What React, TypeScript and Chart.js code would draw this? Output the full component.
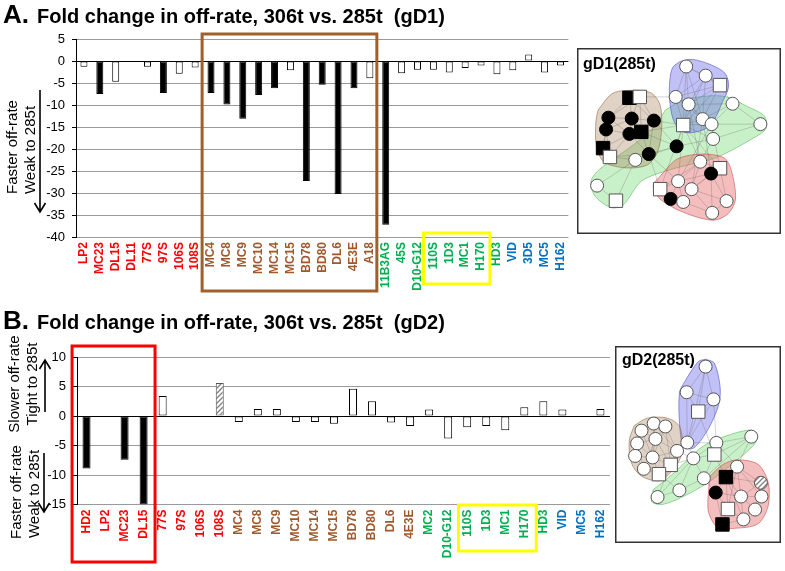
import React, { useEffect, useRef } from 'react';
import { Chart, registerables } from 'chart.js';
Chart.register(...registerables);

// ---------- Panel A data (gD1) ----------
const labelsA = ['LP2','MC23','DL15','DL11','77S','97S','106S','108S','MC4','MC8','MC9','MC10','MC14','MC15','BD78','BD80','DL6','4E3E','A18','11B3AG','45S','D10-G12','110S','1D3','MC1','H170','HD3','VID','3D5','MC5','H162'];
const valuesA = [-1.3,-7.5,-4.7,null,-1.3,-7.3,-2.9,-1.5,-7.3,-9.9,-13.1,-7.7,-6.2,-2.1,-27.3,-5.4,-30.2,-6.2,-3.9,-37.2,-2.8,-2.0,-2.0,-2.6,-1.6,-1.0,-3.0,-2.1,1.5,-2.6,-1.0];
const marksA = ['ns','sig','ns','ns','ns','sig','ns','ns','sig','sig','sig','sig','sig','ns','sig','sig','sig','sig','ns','sig','ns','ns','ns','ns','ns','ns','ns','ns','ns','ns','ns'];
const communityA = ['1','1','1','1','1','1','1','1','2','2','2','2','2','2','2','2','2','2','2','3','3','3','3','3','3','3','3','4','4','4','4'];
const tickLabelsA = [5, 0, -5, -10, -15, -20, -25, -30, -35, -40];

// ---------- Panel B data (gD2) ----------
const labelsB = ['HD2','LP2','MC23','DL15','77S','97S','106S','108S','MC4','MC8','MC9','MC10','MC14','MC15','BD78','BD80','DL6','4E3E','MC2','D10-G12','110S','1D3','MC1','H170','HD3','VID','MC5','H162'];
const valuesB = [-8.9,null,-7.4,-15,3.4,null,null,5.6,-1.0,1.2,1.2,-1.0,-1.0,-1.3,4.6,2.5,-1.1,-1.7,1.1,-3.8,-1.9,-1.7,-2.4,1.5,2.5,1.1,null,1.2];
const marksB = ['sig','ns','sig','sig','ns','ns','ns','partial','ns','ns','ns','ns','ns','ns','ns','ns','ns','ns','ns','ns','ns','ns','ns','ns','ns','ns','ns','ns'];
const communityB = ['1','1','1','1','1','1','1','1','2','2','2','2','2','2','2','2','2','2','3','3','3','3','3','3','3','4','4','4'];
const tickLabelsB = [10, 5, 0, -5, -10, -15];

// ---------- Network gD1(285t) ----------
const nodesGD1 = [
  { id: 'b1', x: 110, y: 9, shape: 'circle', effect: 'none' },
  { id: 'b2', x: 131.7, y: 19.3, shape: 'circle', effect: 'none' },
  { id: 'b3', x: 147.7, y: 30, shape: 'square', effect: 'none' },
  { id: 'b4', x: 98.3, y: 43.3, shape: 'circle', effect: 'none' },
  { id: 'b5', x: 112.7, y: 51.7, shape: 'circle', effect: 'none' },
  { id: 'b6', x: 106.7, y: 75, shape: 'square', effect: 'none' },
  { id: 'b7', x: 128.3, y: 68.3, shape: 'circle', effect: 'none' },
  { id: 'g1', x: 161.7, y: 51, shape: 'circle', effect: 'none' },
  { id: 'g2', x: 192.7, y: 74, shape: 'circle', effect: 'none' },
  { id: 'g3', x: 138.3, y: 74, shape: 'circle', effect: 'none' },
  { id: 'g4', x: 140, y: 90.7, shape: 'circle', effect: 'none' },
  { id: 'g5', x: 99.3, y: 99, shape: 'circle', effect: 'strong' },
  { id: 'g6', x: 53.3, y: 114.3, shape: 'circle', effect: 'none' },
  { id: 'g7', x: 10.7, y: 143.3, shape: 'circle', effect: 'none' },
  { id: 'g8', x: 31.7, y: 160.3, shape: 'square', effect: 'none' },
  { id: 'n1', x: 46.7, y: 44.3, shape: 'square', effect: 'strong' },
  { id: 'n2', x: 58.3, y: 43.3, shape: 'square', effect: 'none' },
  { id: 'n3', x: 23.3, y: 66.7, shape: 'circle', effect: 'strong' },
  { id: 'n4', x: 49.3, y: 67.7, shape: 'circle', effect: 'strong' },
  { id: 'n5', x: 74, y: 70, shape: 'circle', effect: 'strong' },
  { id: 'n6', x: 20.7, y: 80, shape: 'circle', effect: 'strong' },
  { id: 'n7', x: 46.7, y: 85, shape: 'circle', effect: 'strong' },
  { id: 'n8', x: 60, y: 82.7, shape: 'square', effect: 'strong' },
  { id: 'n9', x: 17.3, y: 101, shape: 'square', effect: 'strong' },
  { id: 'n10', x: 25, y: 111, shape: 'square', effect: 'none' },
  { id: 'n11', x: 68.3, y: 107.7, shape: 'circle', effect: 'strong' },
  { id: 'r1', x: 125.7, y: 116.3, shape: 'circle', effect: 'none' },
  { id: 'r2', x: 147.7, y: 123.7, shape: 'square', effect: 'none' },
  { id: 'r3', x: 137.7, y: 129.7, shape: 'circle', effect: 'strong' },
  { id: 'r4', x: 101, y: 138.3, shape: 'circle', effect: 'none' },
  { id: 'r5', x: 116, y: 147.3, shape: 'circle', effect: 'none' },
  { id: 'r6', x: 81, y: 147.3, shape: 'square', effect: 'none' },
  { id: 'r7', x: 92.7, y: 158.3, shape: 'circle', effect: 'strong' },
  { id: 'r8', x: 106.7, y: 161.7, shape: 'circle', effect: 'none' },
  { id: 'r9', x: 155, y: 160.7, shape: 'circle', effect: 'none' },
  { id: 'r10', x: 139, y: 174, shape: 'circle', effect: 'none' },
];
const edgesGD1 = [
  'b1-b2','b1-b4','b1-b5','b1-b6','b1-b7','b2-b3','b2-b5','b2-b6','b2-b7','b3-b4','b3-b5','b3-b6','b3-b7','b4-b5','b4-b6','b4-b7','b5-b6','b5-b7','b6-b7','b1-b3','b2-b4',
  'b3-g1','b7-g3','b6-g3','b5-g1','b7-g1','b6-g4','b5-g3','b6-g5',
  'g1-g2','g1-g3','g2-g3','g2-g4','g3-g4','g4-g5','g5-g6','g6-g7','g7-g8','g6-g8','g4-r1','g3-r2',
  'n1-n2','n1-n3','n1-n4','n1-n5','n2-n4','n2-n5','n2-n8','n3-n4','n3-n6','n3-n7','n4-n5','n4-n6','n4-n7','n4-n8','n5-n8','n5-n11','n6-n7','n6-n9','n6-n10','n7-n8','n7-n9','n7-n10','n7-n11','n8-n11','n9-n10','n10-n11','n3-n9','n5-n7','n2-n3',
  'n2-b4','n5-b6','n5-g5','n11-g5','n8-b6','n11-g6','n10-g6','n11-r6','n11-r4','n8-g5',
  'r1-r2','r1-r3','r1-r4','r1-r5','r2-r3','r2-r9','r3-r5','r3-r9','r3-r10','r4-r5','r4-r6','r4-r7','r4-r8','r5-r8','r5-r10','r5-r9','r6-r7','r6-r8','r7-r8','r8-r10','r9-r10','r3-r4','r2-r5','r1-r6',
  'r1-b6','r4-b6','r1-b5','r2-b6','r5-b7','r3-b7','r4-g3','r6-b6',
];
const hullsGD1 = [
  { community: '2', points: [[11.7,58.3],[26.7,40],[43.3,36],[70,38.3],[80.7,51.7],[82.7,78.3],[78.3,105],[66.7,120],[43.3,123.3],[18.3,116.7],[10,98.3],[9.3,71.7]] },
  { community: '4', points: [[103.3,3.3],[116.7,1],[136.7,6.7],[153.3,16.7],[157.3,31.7],[150,50],[141.7,68.3],[130,80],[108.3,83.3],[96.7,71.7],[91.7,48.3],[91.7,25],[95,10]] },
  { community: '1', points: [[81.7,131.7],[100,113.3],[126.7,107.7],[151.7,111.7],[160,125],[165,158.3],[156.7,175],[140,182.3],[106.7,173.3],[80.7,158.3],[73.3,143.3]] },
  { community: '3', points: [[86.7,58.3],[106.7,46.7],[150,42.3],[180,55],[197.3,65],[199.3,78.3],[190,86.7],[143.3,111.7],[93.3,125],[60,138.3],[40,165],[26.7,168.3],[8.3,155],[4,138.3],[13.3,125],[50,98.3],[73.3,78.3]] },
];

// ---------- Network gD2(285t) ----------
const nodesGD2 = [
  { id: 'u1', x: 91.7, y: 11.3, shape: 'circle', effect: 'none' },
  { id: 'u2', x: 70, y: 40, shape: 'circle', effect: 'none' },
  { id: 'u3', x: 100.7, y: 48, shape: 'circle', effect: 'none' },
  { id: 'u4', x: 83.3, y: 61.7, shape: 'square', effect: 'none' },
  { id: 'u5', x: 70.7, y: 96.3, shape: 'circle', effect: 'none' },
  { id: 't1', x: 32.3, y: 75, shape: 'circle', effect: 'none' },
  { id: 't2', x: 45.7, y: 78.3, shape: 'circle', effect: 'none' },
  { id: 't3', x: 18.3, y: 83, shape: 'circle', effect: 'none' },
  { id: 't4', x: 34.3, y: 92.3, shape: 'circle', effect: 'none' },
  { id: 't5', x: 13.3, y: 97.3, shape: 'circle', effect: 'none' },
  { id: 't6', x: 59, y: 105.7, shape: 'circle', effect: 'none' },
  { id: 't7', x: 11, y: 111.3, shape: 'circle', effect: 'none' },
  { id: 't8', x: 31, y: 113, shape: 'circle', effect: 'none' },
  { id: 't9', x: 21, y: 125.7, shape: 'circle', effect: 'none' },
  { id: 't10', x: 51.7, y: 121.3, shape: 'square', effect: 'none' },
  { id: 't11', x: 38.3, y: 131.7, shape: 'square', effect: 'none' },
  { id: 'e1', x: 144, y: 89.7, shape: 'circle', effect: 'none' },
  { id: 'e2', x: 104, y: 96.7, shape: 'circle', effect: 'none' },
  { id: 'e3', x: 101.7, y: 109.7, shape: 'square', effect: 'none' },
  { id: 'e4', x: 77.7, y: 114, shape: 'circle', effect: 'none' },
  { id: 'e5', x: 89.7, y: 136.3, shape: 'circle', effect: 'none' },
  { id: 'e6', x: 61.7, y: 149.7, shape: 'circle', effect: 'none' },
  { id: 'e7', x: 36.7, y: 157.3, shape: 'circle', effect: 'none' },
  { id: 'd1', x: 127.7, y: 123.3, shape: 'circle', effect: 'none' },
  { id: 'd2', x: 115, y: 135, shape: 'square', effect: 'strong' },
  { id: 'd3', x: 155, y: 141.3, shape: 'circle', effect: 'partial' },
  { id: 'd4', x: 103.3, y: 152.3, shape: 'circle', effect: 'strong' },
  { id: 'd5', x: 132.3, y: 156.7, shape: 'circle', effect: 'none' },
  { id: 'd6', x: 155.7, y: 156.7, shape: 'circle', effect: 'none' },
  { id: 'd7', x: 117.3, y: 170.7, shape: 'square', effect: 'none' },
  { id: 'd8', x: 148.3, y: 171.3, shape: 'circle', effect: 'none' },
  { id: 'd9', x: 135, y: 182.3, shape: 'circle', effect: 'none' },
  { id: 'd10', x: 111, y: 188, shape: 'square', effect: 'strong' },
];
const edgesGD2 = [
  'u1-u2','u1-u3','u1-u4','u1-u5','u2-u3','u2-u4','u2-u5','u3-u4','u3-u5','u4-u5',
  'u5-e2','u5-e4','u4-e3','u3-e2','u5-t6',
  't1-t2','t1-t3','t1-t4','t1-t5','t1-t6','t2-t4','t2-t6','t2-t8','t3-t4','t3-t5','t3-t7','t4-t5','t4-t6','t4-t8','t4-t9','t4-t10','t5-t7','t5-t8','t6-t8','t6-t10','t7-t8','t7-t9','t8-t9','t8-t10','t8-t11','t9-t11','t10-t11','t2-t10','t3-t8','t1-t8','t5-t9',
  't6-e4','t10-e4','t11-e6','t10-e7',
  'e1-e2','e1-e3','e2-e3','e2-e4','e3-e4','e3-e5','e4-e5','e4-e6','e5-e6','e6-e7','e1-d1','e2-d1','e3-d2','e5-d4','e4-e7','e1-e5',
  'd1-d2','d1-d3','d1-d5','d1-d6','d2-d4','d2-d5','d2-d7','d3-d5','d3-d6','d3-d8','d4-d7','d4-d10','d5-d6','d5-d7','d5-d8','d5-d9','d6-d8','d7-d9','d7-d10','d8-d9','d9-d10','d2-d3','d4-d5','d1-d7','d6-d9','d2-d9',
];
const hullsGD2 = [
  { community: '2', points: [[10,77.3],[25,69],[48.3,69],[62.3,79],[65,107.3],[55,125.7],[40,139],[18.3,134],[6.7,119],[4.3,94]] },
  { community: '4', points: [[91.7,3],[101.7,7.3],[108.3,34],[106.7,54],[95,80.7],[78.3,102.3],[66.7,100.7],[62.3,80.7],[61.7,40.7],[68.3,27.3],[83.3,5.7]] },
  { community: '1', points: [[96.7,134],[111.7,120.7],[128.3,115.7],[151.7,120.7],[163.3,140.7],[163.3,167.3],[151.7,187.3],[125,192.3],[105,190.7],[95,174],[95,150.7]] },
  { community: '3', points: [[31.7,149],[55,130.7],[88.3,100.7],[115,89],[141.7,82.3],[150,85.7],[148.3,97.3],[121.7,120.7],[95,140.7],[65,157.3],[41.7,165.7],[30,162.3]] },
];

// ---------- styling ----------
const LABEL_COLORS: Record<string, string> = { '1': '#FF0000', '2': '#A0582A', '3': '#00B050', '4': '#0070C0' };
const HULL_FILL: Record<string, string> = {
  '1': 'rgba(232,100,100,0.42)', '2': 'rgba(165,125,85,0.35)', '3': 'rgba(100,215,100,0.35)', '4': 'rgba(100,100,235,0.4)',
};
const HULL_LINE: Record<string, string> = {
  '1': 'rgba(200,80,80,0.6)', '2': 'rgba(140,100,60,0.55)', '3': 'rgba(80,180,80,0.55)', '4': 'rgba(80,80,200,0.6)',
};
const FONT = 'Arial, "Liberation Sans", sans-serif';

function makeHatch(ctx: CanvasRenderingContext2D) {
  const c = document.createElement('canvas');
  c.width = 5; c.height = 5;
  const g = c.getContext('2d')!;
  g.fillStyle = '#fff';
  g.fillRect(0, 0, 5, 5);
  g.strokeStyle = '#808080';
  g.lineWidth = 1.3;
  g.beginPath();
  g.moveTo(0, 5); g.lineTo(5, 0);
  g.moveTo(-1, 1); g.lineTo(1, -1);
  g.moveTo(4, 6); g.lineTo(6, 4);
  g.stroke();
  return ctx.createPattern(c, 'repeat');
}

type Box = { from: number; to: number; padL: number; padR: number; top: number; bottom: number; color: string };
type Arrow = { x: number; tail: number; tip: number };

function overlayPlugin(boxes: Box[], arrows: Arrow[]) {
  return {
    id: 'overlay',
    afterDraw(chart: any) {
      const ctx = chart.ctx as CanvasRenderingContext2D;
      const xs = chart.scales.x;
      const step = xs.getPixelForValue(1) - xs.getPixelForValue(0);
      ctx.save();
      for (const b of boxes) {
        const l = xs.getPixelForValue(b.from) - b.padL * step;
        const r = xs.getPixelForValue(b.to) + b.padR * step;
        ctx.strokeStyle = b.color;
        ctx.lineWidth = 3;
        ctx.strokeRect(l, b.top, r - l, b.bottom - b.top);
      }
      ctx.strokeStyle = '#000';
      ctx.lineWidth = 1.6;
      for (const a of arrows) {
        const dir = a.tip > a.tail ? 1 : -1;
        ctx.beginPath();
        ctx.moveTo(a.x, a.tail);
        ctx.lineTo(a.x, a.tip);
        ctx.moveTo(a.x - 5.5, a.tip - dir * 9);
        ctx.lineTo(a.x, a.tip);
        ctx.lineTo(a.x + 5.5, a.tip - dir * 9);
        ctx.stroke();
      }
      ctx.restore();
    },
  };
}

function makeBarChart(canvas: HTMLCanvasElement, p: any) {
  const ctx = canvas.getContext('2d')!;
  const hatch = makeHatch(ctx);
  const fills = p.marks.map((m: string) => (m === 'sig' ? '#000' : m === 'partial' ? hatch : '#fff'));
  const borders = p.marks.map((m: string) => (m === 'partial' ? '#555' : '#000'));
  return new Chart(canvas, {
    type: 'bar',
    data: {
      labels: p.labels,
      datasets: [{
        data: p.values,
        backgroundColor: fills,
        borderColor: borders,
        borderWidth: 1,
        borderSkipped: false,
        barPercentage: p.barPct,
        categoryPercentage: 1,
      }],
    },
    options: {
      responsive: false,
      animation: false,
      layout: { padding: { top: p.areaTop, right: p.rightPad, left: 0, bottom: 0 } },
      plugins: { legend: { display: false }, tooltip: { enabled: false } },
      scales: {
        x: {
          grid: { display: false, drawTicks: false },
          border: { display: false },
          ticks: {
            autoSkip: false,
            minRotation: 90,
            maxRotation: 90,
            padding: 5,
            color: (c: any) => LABEL_COLORS[p.communities[c.index]],
            font: { family: FONT, weight: 'bold', size: 12 },
          },
          afterFit: (s: any) => { s.height = canvas.height - p.areaBottom; },
        },
        y: {
          min: p.ticks[p.ticks.length - 1],
          max: p.ticks[0],
          afterBuildTicks: (s: any) => { s.ticks = p.ticks.map((v: number) => ({ value: v })); },
          ticks: { color: '#000', padding: 7, font: { family: FONT, size: 13 } },
          grid: {
            color: (c: any) => (c.tick && c.tick.value === 0 ? '#000' : '#9a9a9a'),
            tickColor: '#000',
            tickLength: 4,
            lineWidth: 1,
          },
          border: { color: '#000', width: 1 },
          afterFit: (s: any) => { s.width = p.yWidth; },
        },
      },
    } as any,
    plugins: [overlayPlugin(p.boxes, p.arrows)],
  });
}

function makeNetwork(canvas: HTMLCanvasElement, nodes: any[], edges: string[], hulls: any[]) {
  const ctx = canvas.getContext('2d')!;
  const hatch = makeHatch(ctx);
  const w = canvas.width, h = canvas.height;
  const byId: Record<string, any> = {};
  nodes.forEach((n) => { byId[n.id] = n; });
  const edgeData: any[] = [];
  edges.forEach((e) => {
    const [a, b] = e.split('-');
    edgeData.push({ x: byId[a].x, y: byId[a].y }, { x: byId[b].x, y: byId[b].y }, { x: null, y: null });
  });
  const hullSets = hulls.map((hl) => ({
    type: 'line',
    data: [...hl.points, hl.points[0]].map(([x, y]: number[]) => ({ x, y })),
    fill: 'shape',
    backgroundColor: HULL_FILL[hl.community],
    borderColor: HULL_LINE[hl.community],
    borderWidth: 1,
    pointRadius: 0,
    tension: 0.3,
    order: 3,
    clip: false,
  }));
  const boxPlugin = {
    id: 'netbox',
    afterDraw(chart: any) {
      const c = chart.ctx as CanvasRenderingContext2D;
      c.save();
      c.strokeStyle = '#333';
      c.lineWidth = 1.5;
      c.strokeRect(0.75, 0.75, w - 1.5, h - 1.5);
      c.restore();
    },
  };
  return new Chart(canvas, {
    type: 'scatter',
    data: {
      datasets: [
        ...hullSets,
        {
          type: 'line',
          data: edgeData,
          borderColor: 'rgba(90,90,90,0.45)',
          borderWidth: 0.6,
          pointRadius: 0,
          spanGaps: false,
          fill: false,
          order: 2,
          clip: false,
        },
        {
          type: 'scatter',
          data: nodes.map((n) => ({ x: n.x, y: n.y })),
          pointStyle: nodes.map((n) => (n.shape === 'square' ? 'rect' : 'circle')),
          pointRadius: nodes.map((n) => (n.shape === 'square' ? 9.5 : 6.5)),
          backgroundColor: nodes.map((n) => (n.effect === 'strong' ? '#000' : n.effect === 'partial' ? hatch : '#fff')),
          borderColor: nodes.map((n) => (n.effect === 'strong' ? '#000' : '#555')),
          borderWidth: 1,
          order: 1,
          clip: false,
        },
      ] as any,
    },
    options: {
      responsive: false,
      animation: false,
      layout: { padding: 0 },
      plugins: { legend: { display: false }, tooltip: { enabled: false } },
      scales: {
        x: { type: 'linear', min: 0, max: w, display: false },
        y: { type: 'linear', min: 0, max: h, reverse: true, display: false },
      },
    } as any,
    plugins: [boxPlugin],
  });
}

const abs = (s: any) => ({ position: 'absolute', margin: 0, whiteSpace: 'pre', ...s });
const vText = (cx: number, cy: number): any => ({
  position: 'absolute', left: cx, top: cy, transform: 'translate(-50%, -50%) rotate(-90deg)',
  whiteSpace: 'nowrap', fontSize: 15, lineHeight: '15px', fontFamily: FONT, color: '#000',
});

export default function App() {
  const refA = useRef<HTMLCanvasElement>(null);
  const refB = useRef<HTMLCanvasElement>(null);
  const refN1 = useRef<HTMLCanvasElement>(null);
  const refN2 = useRef<HTMLCanvasElement>(null);

  useEffect(() => {
    const charts: Chart[] = [];
    charts.push(makeBarChart(refA.current!, {
      labels: labelsA, values: valuesA, marks: marksA, communities: communityA, ticks: tickLabelsA,
      areaTop: 39, areaBottom: 237, yWidth: 76, rightPad: 8, barPct: 0.44,
      boxes: [
        { from: 8, to: 18, padL: 0.56, padR: 0.44, top: 34, bottom: 291, color: '#A0602C' },
        { from: 22, to: 25, padL: 0.62, padR: 0.56, top: 233, bottom: 284, color: '#FFFF00' },
      ],
      arrows: [{ x: 40, tail: 90, tip: 212 }],
    }));
    charts.push(makeBarChart(refB.current!, {
      labels: labelsB, values: valuesB, marks: marksB, communities: communityB, ticks: tickLabelsB,
      areaTop: 57, areaBottom: 204.5, yWidth: 77, rightPad: 9, barPct: 0.42,
      boxes: [
        { from: 0, to: 3, padL: 0.76, padR: 0.6, top: 46, bottom: 262, color: '#FF0000' },
        { from: 20, to: 23, padL: 0.46, padR: 0.63, top: 205, bottom: 251, color: '#FFFF00' },
      ],
      arrows: [{ x: 45, tail: 112, tip: 60 }, { x: 44, tail: 153, tip: 212 }],
    }));
    charts.push(makeNetwork(refN1.current!, nodesGD1, edgesGD1, hullsGD1));
    charts.push(makeNetwork(refN2.current!, nodesGD2, edgesGD2, hullsGD2));
    return () => charts.forEach((c) => c.destroy());
  }, []);

  return (
    <div style={{ position: 'absolute', left: 0, top: 0, width: 785, height: 571, background: '#fff', overflow: 'hidden', fontFamily: FONT }}>
      <canvas ref={refA} width={580} height={300} style={{ position: 'absolute', left: 0, top: 0, width: 580, height: 300 }} />
      <canvas ref={refB} width={620} height={271} style={{ position: 'absolute', left: 0, top: 300, width: 620, height: 271 }} />
      <canvas ref={refN1} width={204} height={186} style={{ position: 'absolute', left: 577, top: 48, width: 204, height: 186 }} />
      <canvas ref={refN2} width={166} height={197} style={{ position: 'absolute', left: 615, top: 346, width: 166, height: 197 }} />

      <div style={abs({ left: 3, top: 1, fontSize: 26, lineHeight: '26px', fontWeight: 'bold' })}>A.</div>
      <div style={abs({ left: 37, top: 6, fontSize: 20, lineHeight: '20px', fontWeight: 'bold' })}>Fold change in off-rate, 306t vs. 285t  (gD1)</div>
      <div style={abs({ left: 3, top: 307, fontSize: 26, lineHeight: '26px', fontWeight: 'bold' })}>B.</div>
      <div style={abs({ left: 37, top: 312, fontSize: 20, lineHeight: '20px', fontWeight: 'bold' })}>Fold change in off-rate, 306t vs. 285t  (gD2)</div>

      <div style={vText(11, 147)}>Faster off-rate</div>
      <div style={vText(29, 150)}>Weak to 285t</div>
      <div style={vText(13, 384)}>Slower off-rate</div>
      <div style={vText(31, 384)}>Tight to 285t</div>
      <div style={vText(15, 492)}>Faster off-rate</div>
      <div style={vText(33, 494)}>Weak to 285t</div>

      <div style={abs({ left: 583, top: 56, fontSize: 16, lineHeight: '16px', fontWeight: 'bold' })}>gD1(285t)</div>
      <div style={abs({ left: 622, top: 352, fontSize: 16, lineHeight: '16px', fontWeight: 'bold' })}>gD2(285t)</div>
    </div>
  );
}
